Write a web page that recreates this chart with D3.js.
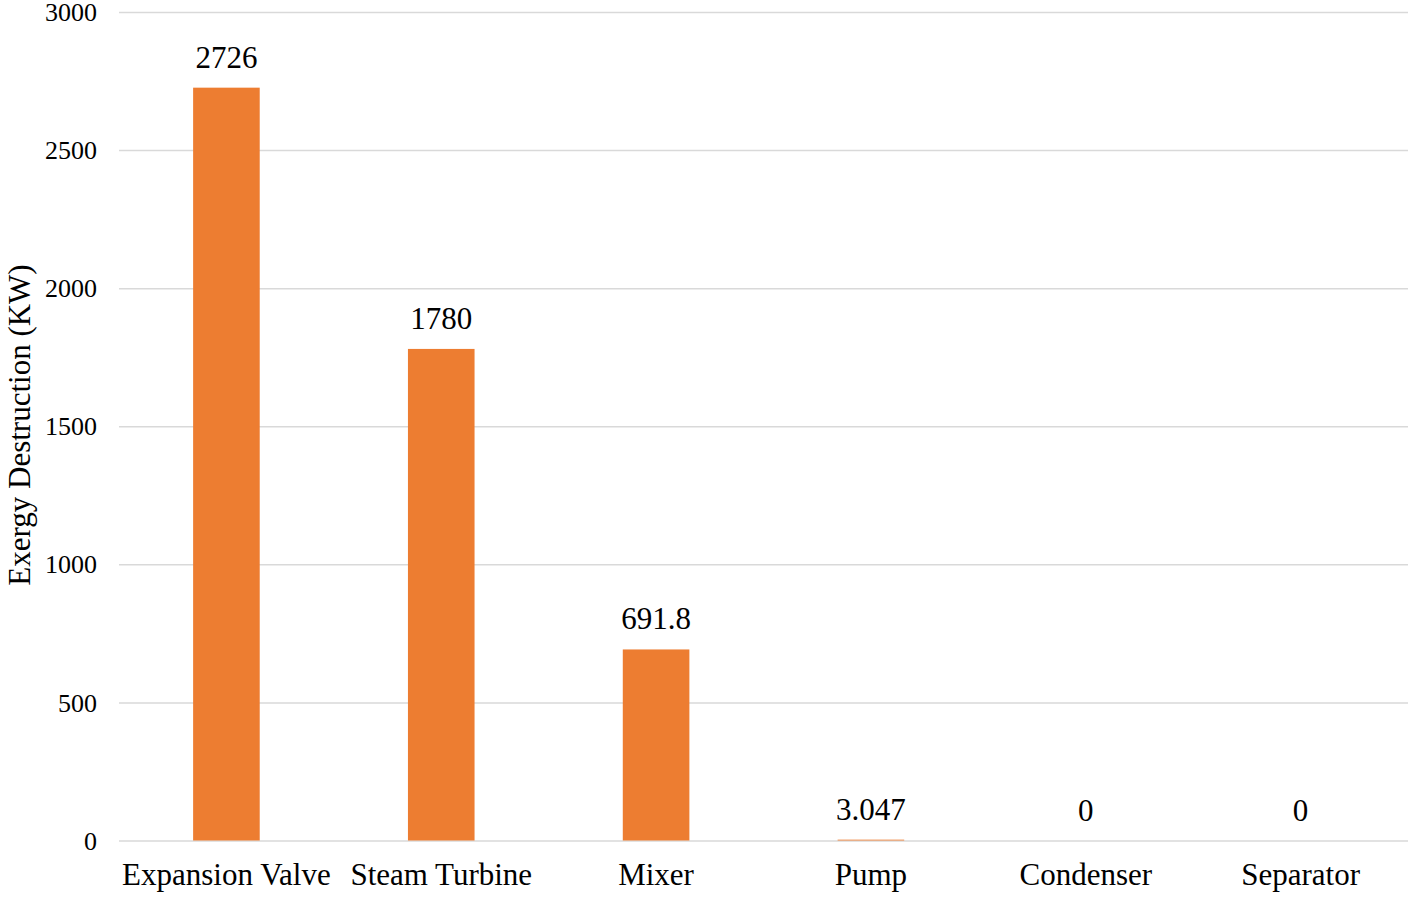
<!DOCTYPE html>
<html>
<head>
<meta charset="utf-8">
<script src="https://cdn.jsdelivr.net/npm/d3@7"></script>
<style>
  body { margin: 0; background: #fff; }
  text { font-family: "Liberation Serif", "Times New Roman", serif; fill: #000; }
  .gridline line { stroke: #d9d9d9; stroke-width: 1.5; }
  .gridline path { display: none; }
</style>
</head>
<body>
<div id="chart"></div>
<script>
// Exergy destruction per component.
const components = ["Expansion Valve", "Steam Turbine", "Mixer", "Pump", "Condenser", "Separator"];
const exergyValues = [2726, 1780, 691.8, 3.047, 0, 0];
const valueLabels = ["2726", "1780", "691.8", "3.047", "0", "0"];
const yTicks = [0, 500, 1000, 1500, 2000, 2500, 3000];

const width = 1416;
const height = 898;
const margin = { top: 12, right: 8, bottom: 58, left: 119 };
const innerWidth = width - margin.left - margin.right;
const innerHeight = height - margin.top - margin.bottom;

const data = components.map((c, i) => ({ name: c, value: exergyValues[i], label: valueLabels[i] }));

const svg = d3.select("#chart")
  .append("svg")
  .attr("width", width)
  .attr("height", height);

const chart = svg.append("g")
  .attr("transform", `translate(${margin.left}, ${margin.top})`);

const xScale = d3.scaleBand()
  .domain(components)
  .range([0, innerWidth])
  .paddingInner(0.69)
  .paddingOuter(0.345);

const yScale = d3.scaleLinear()
  .domain([0, 3000])
  .range([innerHeight + 0.5, 0]);

// Horizontal gridlines, no axis line
chart.append("g")
  .attr("class", "gridline")
  .call(d3.axisLeft(yScale).tickValues(yTicks).tickSize(-innerWidth).tickFormat(""));

// Y tick labels
chart.selectAll(".y-label")
  .data(yTicks)
  .join("text")
  .attr("class", "y-label")
  .attr("x", -22)
  .attr("y", d => yScale(d))
  .attr("dy", "0.35em")
  .attr("text-anchor", "end")
  .style("font-size", "26px")
  .text(d => d);

chart.selectAll(".bar")
  .data(data)
  .join("rect")
  .attr("class", "bar")
  .attr("x", d => xScale(d.name))
  .attr("width", xScale.bandwidth())
  .attr("y", d => yScale(d.value))
  .attr("height", d => yScale(0) - yScale(d.value))
  .attr("fill", "#ED7D31");

chart.selectAll(".value-label")
  .data(data)
  .join("text")
  .attr("class", "value-label")
  .attr("x", d => xScale(d.name) + xScale.bandwidth() / 2)
  .attr("y", d => yScale(d.value) - 20)
  .attr("text-anchor", "middle")
  .style("font-size", "31px")
  .text(d => d.label);

chart.selectAll(".cat-label")
  .data(data)
  .join("text")
  .attr("class", "cat-label")
  .attr("x", d => xScale(d.name) + xScale.bandwidth() / 2)
  .attr("y", innerHeight + 45)
  .attr("text-anchor", "middle")
  .style("font-size", "31px")
  .text(d => d.name);

svg.append("text")
  .attr("transform", `translate(30, 425) rotate(-90)`)
  .attr("text-anchor", "middle")
  .style("font-size", "31px")
  .text("Exergy Destruction (KW)");
</script>
</body>
</html>
